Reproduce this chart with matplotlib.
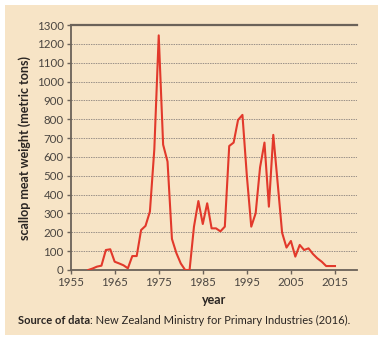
import matplotlib
matplotlib.use("Agg")
import matplotlib.pyplot as plt
from matplotlib.patches import Rectangle

# scallop meat weight by year (metric tons)
years = list(range(1959, 2016))
weight = [0, 8, 18, 23, 106, 110, 44, 35, 25, 9, 74, 74, 212, 234, 310, 640,
          1245, 665, 575, 165, 90, 35, 0, 0, 230, 366, 244, 354, 221, 221,
          205, 230, 658, 676, 796, 823, 500, 230, 301, 545, 676, 336, 717,
          460, 198, 119, 154, 71, 133, 106, 115, 85, 62, 44, 21, 21, 21]

x_ticks = [1955, 1965, 1975, 1985, 1995, 2005, 2015]
y_ticks = list(range(0, 1301, 100))

plt.rcParams['font.family'] = ['Lato', 'DejaVu Sans']

bg = '#f7e4c6'
red = '#e2392b'
dark = '#6b6259'
text_col = '#4a4540'

fig = plt.figure(figsize=(3.83, 3.40), dpi=100, facecolor='white')
fig.patches.append(Rectangle((5 / 383, 5 / 340), 373 / 383, 330 / 340,
                             transform=fig.transFigure, facecolor=bg,
                             edgecolor='none', zorder=-10))

ax = fig.add_axes([70.6 / 383, 1 - 270 / 340, (357 - 70.6) / 383, 245 / 340])
ax.set_facecolor('none')

ax.plot(years, weight, color=red, linewidth=1.5, zorder=3)

ax.set_xlim(1955, 2020)
ax.set_ylim(0, 1300)
ax.set_xticks(x_ticks)
ax.set_yticks(y_ticks)

for v in y_ticks[1:-1]:
    ax.axhline(v, color='#9a9088', linewidth=0.7, linestyle=(0, (1.5, 1)), zorder=1)
ax.axhline(1300, color=dark, linewidth=1.6, zorder=2, clip_on=False)

for s in ['top', 'right']:
    ax.spines[s].set_visible(False)
for s in ['left', 'bottom']:
    ax.spines[s].set_color(dark)
    ax.spines[s].set_linewidth(1.3)

ax.tick_params(axis='both', direction='out', length=3, width=1, color=dark,
               labelsize=8.3, labelcolor=text_col, pad=2)

ax.set_xlabel('year', fontsize=9, fontweight='bold', color='#2a2522', labelpad=4)
ax.set_ylabel('scallop meat weight (metric tons)', fontsize=9,
              fontweight='bold', color='#2a2522', labelpad=4)

fig.canvas.draw()
t1 = fig.text(18 / 383, 1 - 320 / 340, 'Source of data', fontsize=8,
              fontweight='bold', color='#2a2522', va='center')
fig.canvas.draw()
bb = t1.get_window_extent()
fig.text(bb.x1 / fig.bbox.width, 1 - 320 / 340,
         ': New Zealand Ministry for Primary Industries (2016).',
         fontsize=8, color='#2a2522', va='center')

fig.savefig('out.png', dpi=100, facecolor='white')
